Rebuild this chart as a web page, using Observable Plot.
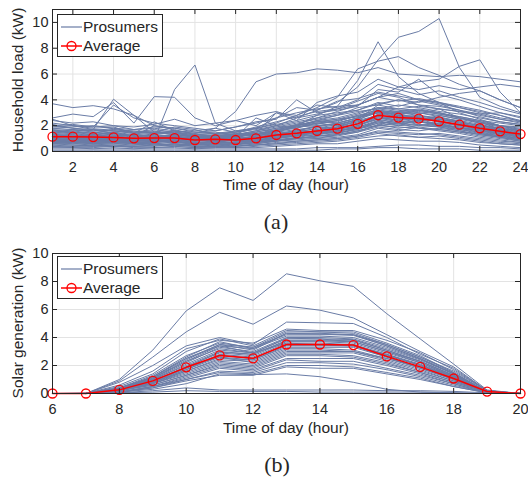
<!DOCTYPE html>
<html>
<head>
<meta charset="utf-8">
<script src="https://cdn.jsdelivr.net/npm/d3@7"></script>
<script src="https://cdn.jsdelivr.net/npm/@observablehq/plot@0.6"></script>
<style>
  body { margin: 0; background: #fff; }
  #wrap { position: relative; width: 528px; height: 479px; font-family: "Liberation Sans", Arial, sans-serif; color: #262626; overflow: hidden; }
  .ylab { position: absolute; transform: translate(-50%, -50%) rotate(-90deg); white-space: nowrap; font-size: 15.5px; line-height: 1; }
  .xlab { position: absolute; transform: translate(-50%, -50%); white-space: nowrap; font-size: 15.5px; line-height: 1; }
  .cap { position: absolute; transform: translate(-50%, -50%); font-family: "Liberation Serif", "Times New Roman", serif; font-size: 22px; line-height: 1; }
  .legend { position: absolute; }
</style>
</head>
<body>
<div id="wrap"></div>
<script>
// ---------- Data: (a) household load ----------
const loadHours = [1,2,3,4,5,6,7,8,9,10,11,12,13,14,15,16,17,18,19,20,21,22,23,24];
const loadAverage = [1.15,1.15,1.12,1.09,1.02,1.04,1.04,0.89,0.94,0.89,1.02,1.28,1.41,1.59,1.77,2.14,2.81,2.63,2.55,2.34,2.08,1.80,1.56,1.35];
const loadProsumers = [
  [3.7,3.4,3.55,3.3,2.8,2.0,1.8,1.5,1.6,1.9,2.2,2.6,3.0,3.3,3.5,3.6,4.2,4.5,4.0,3.7,3.4,3.0,2.6,2.4],
  [1.3,1.2,1.1,1.4,1.2,0.9,4.8,6.7,2.2,1.6,1.8,1.5,2.0,2.4,2.2,2.6,3.2,3.0,2.8,2.5,2.2,1.8,1.5,1.3],
  [2.5,2.0,1.7,4.05,2.8,1.5,1.3,1.2,1.1,1.2,1.3,1.6,1.9,2.2,2.0,2.5,3.0,2.8,3.2,3.0,2.6,2.2,1.9,1.6],
  [2.6,2.9,2.7,3.8,2.2,4.25,4.2,2.6,2.0,2.4,2.8,3.1,2.6,2.9,3.3,3.9,4.5,4.2,3.6,3.3,3.1,2.9,3.0,2.7],
  [1.6,1.5,1.4,1.7,1.5,1.4,1.6,1.4,1.8,3.1,5.4,6.0,6.1,6.4,6.3,6.1,6.5,6.0,5.9,5.8,5.9,5.8,5.6,5.4],
  [1.0,0.9,0.8,0.9,0.8,0.9,1.2,1.0,1.1,1.3,1.6,2.0,2.6,3.2,3.8,5.0,7.1,8.85,9.3,10.3,6.5,4.2,3.5,3.0],
  [0.8,0.7,0.7,0.8,0.7,0.8,0.9,0.8,0.9,1.0,1.2,1.5,2.0,2.8,3.5,5.5,8.5,5.8,4.5,3.8,3.0,2.5,2.0,1.6],
  [1.2,1.1,1.0,1.1,1.0,1.1,1.0,0.9,1.0,1.1,1.3,1.6,2.1,2.6,3.1,3.6,4.2,5.0,5.4,5.6,6.6,7.1,4.6,3.0],
  [1.5,1.4,1.3,1.4,1.2,1.3,1.5,1.3,1.4,1.5,1.8,2.2,2.8,3.4,4.2,6.4,7.0,7.35,6.5,5.9,5.2,4.7,4.0,3.4],
  [0.9,0.8,0.8,0.9,0.8,0.9,1.0,0.9,1.0,1.2,1.4,3.0,2.4,3.8,4.3,4.6,5.6,5.0,4.8,5.1,4.8,5.0,5.2,5.0],
  [2.0,2.1,1.9,3.6,2.6,2.2,2.0,1.8,1.6,1.9,2.3,2.5,4.0,3.0,3.2,3.5,4.8,4.6,5.6,4.4,4.0,3.5,3.0,2.6],
  [1.1,1.0,0.9,1.0,0.9,1.0,1.1,0.8,0.9,0.8,1.0,1.2,1.4,1.6,1.8,2.2,2.9,2.7,2.6,2.4,2.1,1.8,1.5,1.3],
  [0.5,0.4,0.4,0.5,0.4,0.5,0.6,0.5,0.5,0.6,0.7,0.9,1.0,1.2,1.3,1.6,2.0,1.9,1.8,1.6,1.4,1.1,0.9,0.7],
  [1.8,1.7,1.6,1.8,1.5,1.6,1.4,1.2,1.3,1.2,1.5,1.8,2.1,2.3,2.5,2.9,3.4,3.2,3.0,2.8,2.5,2.2,2.0,1.9],
  [0.2,0.2,0.2,0.2,0.2,0.2,0.2,0.2,0.2,0.2,0.2,0.2,0.2,0.3,0.3,0.3,0.4,0.5,0.5,0.4,0.4,0.3,0.3,0.2],
  [0.8,0.7,0.9,0.8,0.6,0.7,0.8,0.6,0.7,0.9,0.8,1.1,1.5,1.3,1.9,2.4,2.8,3.1,2.9,3.3,2.6,2.3,1.7,1.2],
  [1.4,1.3,1.2,1.2,1.1,1.3,1.2,1.0,1.1,1.0,1.2,1.4,1.6,2.0,2.1,2.5,3.6,3.3,3.2,3.0,2.7,2.4,2.0,1.7],
  [0.6,0.6,0.5,0.6,0.7,0.5,0.6,0.4,0.5,0.4,0.6,0.8,0.9,1.0,1.1,1.3,1.8,1.6,1.9,1.7,1.5,1.2,1.0,0.8],
  [1.9,2.0,1.8,1.9,1.4,2.3,1.6,1.5,1.4,1.6,1.8,2.1,2.4,2.8,3.0,3.2,3.8,3.5,3.9,3.6,3.2,2.7,2.3,2.1],
  [0.9,1.0,1.2,1.0,0.8,0.9,0.7,0.6,0.8,0.7,0.9,1.0,1.2,1.5,1.4,1.8,2.2,2.4,2.1,2.0,1.9,1.6,1.3,1.0],
  [1.2,1.1,1.3,1.5,1.2,1.0,1.3,1.1,0.9,1.1,1.0,1.3,1.2,1.7,2.0,2.3,2.6,2.5,2.7,2.3,2.0,1.9,1.7,1.5],
  [0.4,0.3,0.3,0.4,0.3,0.3,0.4,0.3,0.3,0.4,0.5,0.6,0.7,0.8,0.9,1.1,1.4,1.2,1.1,1.0,0.9,0.7,0.6,0.5],
  [1.6,1.5,1.5,1.3,1.2,2.0,1.7,1.3,1.2,1.4,1.3,1.6,1.9,2.1,2.4,2.7,3.0,2.9,2.6,2.5,2.3,2.0,1.8,1.6],
  [0.7,0.8,0.6,0.7,0.8,0.9,0.6,0.5,0.6,0.5,0.7,0.9,1.1,1.3,1.6,1.9,2.3,2.1,2.3,2.0,1.7,1.5,1.2,1.0],
  [1.0,0.9,0.8,0.8,0.7,0.8,0.9,0.7,0.8,0.6,0.8,1.0,1.3,1.4,1.5,2.0,2.5,2.2,2.0,2.2,1.8,1.6,1.4,1.1],
  [2.2,2.0,1.9,2.0,1.7,1.8,1.6,1.4,1.5,1.3,1.6,1.9,2.2,2.5,2.8,3.1,3.3,3.6,3.4,3.1,2.9,2.6,2.3,2.1],
  [0.3,0.3,0.2,0.3,0.2,0.3,0.3,0.2,0.3,0.3,0.3,0.4,0.5,0.6,0.6,0.8,1.0,0.9,0.8,0.8,0.7,0.5,0.4,0.3],
  [1.3,1.4,1.2,1.3,1.1,1.2,1.0,0.9,1.0,0.9,1.1,1.3,1.5,1.8,2.1,2.4,3.2,2.8,2.6,2.5,2.2,1.9,1.6,1.4],
  [0.9,0.8,0.8,0.8,0.9,0.8,0.7,0.7,0.7,0.7,0.8,1.2,1.7,1.4,1.6,1.8,2.0,2.6,2.4,2.8,2.5,1.4,1.1,0.9],
  [1.5,1.6,1.4,1.5,1.3,1.4,1.6,1.1,1.2,1.1,1.4,1.6,1.8,2.2,2.3,2.8,3.0,3.1,3.3,3.0,2.6,2.3,2.0,1.7],
  [0.6,0.5,0.5,0.5,0.5,0.6,0.5,0.4,0.4,0.5,0.5,0.7,0.8,0.9,1.0,1.2,1.5,1.4,1.3,1.4,1.2,1.0,0.8,0.7],
  [1.1,1.2,1.1,1.2,1.0,1.1,1.2,0.9,0.8,0.9,1.2,1.5,1.9,2.0,2.2,2.6,3.0,2.7,2.8,2.6,2.4,2.1,1.8,1.5],
  [0.8,0.9,1.0,0.9,0.7,0.7,0.9,0.7,0.6,0.7,0.8,0.9,1.0,1.2,1.4,1.7,2.4,2.0,2.5,2.1,1.8,1.7,1.4,1.2],
  [1.7,1.6,1.7,1.6,1.4,1.5,1.3,1.1,1.0,1.2,1.3,1.7,2.0,2.4,2.6,3.0,3.4,3.3,3.5,3.3,3.1,2.8,2.5,2.2],
  [0.1,0.1,0.1,0.1,0.1,0.1,0.1,0.1,0.1,0.1,0.1,0.1,0.1,0.1,0.2,0.2,0.3,0.3,0.2,0.2,0.2,0.1,0.1,0.1],
  [1.0,1.1,0.9,1.1,0.8,1.0,0.9,0.8,1.0,0.8,1.1,1.1,1.3,1.5,1.7,2.0,2.6,2.3,2.3,2.2,2.0,1.7,1.5,1.2],
  [0.5,0.5,0.4,0.4,0.4,0.4,0.5,0.4,0.4,0.3,0.4,0.5,0.6,0.7,0.8,1.0,1.2,1.3,1.1,1.2,1.0,0.8,0.6,0.5],
  [2.1,1.8,1.6,1.7,1.6,1.5,1.9,1.7,1.3,1.5,1.7,2.0,2.3,2.6,2.9,3.2,3.7,4.0,3.6,3.5,3.2,2.9,2.5,2.3],
  [1.3,1.2,1.3,1.1,1.0,1.1,1.1,1.0,0.9,1.0,1.0,1.3,1.6,1.9,1.8,2.2,2.7,2.6,2.5,2.3,2.1,1.8,1.5,1.3],
  [0.7,0.6,0.7,0.7,0.6,0.6,0.7,0.6,0.7,0.6,0.6,0.8,1.0,1.1,1.2,1.5,1.9,1.7,1.6,1.8,1.6,1.3,1.1,0.9],
  [1.8,1.9,2.0,1.8,1.7,1.9,1.8,1.6,1.8,1.5,1.9,2.3,2.7,3.1,3.3,3.6,4.2,3.9,4.1,3.8,3.4,3.1,2.8,2.4],
  [1.2,1.1,1.0,1.2,1.0,1.1,1.3,1.1,1.2,1.4,1.8,2.6,3.4,3.2,3.9,4.1,4.6,4.3,4.0,3.8,3.5,3.2,2.8,2.3],
  [2.4,2.2,2.3,2.0,1.9,2.1,2.5,2.0,2.2,2.4,2.0,3.0,2.8,3.6,3.4,4.0,5.2,4.8,4.4,4.7,4.2,3.8,3.3,2.9],
  [0.9,0.9,0.8,1.0,0.9,1.0,1.1,0.9,1.0,1.1,2.6,2.0,1.8,2.4,2.8,3.4,3.6,4.0,3.8,4.2,4.5,4.7,4.0,3.4],
  [1.0,0.9,1.0,0.9,0.8,0.9,0.8,0.7,0.8,0.9,1.0,1.1,1.3,1.4,1.6,1.9,2.4,2.5,2.3,2.1,1.9,1.6,1.4,1.2],
  [1.4,1.5,1.3,1.4,1.2,1.2,1.3,1.2,1.0,1.2,1.3,1.5,1.7,1.9,2.2,2.6,3.1,2.9,3.0,2.7,2.3,2.0,1.8,1.6],
  [0.6,0.7,0.6,0.6,0.5,0.7,0.8,0.5,0.6,0.6,0.7,0.9,1.0,1.2,1.3,1.5,2.1,1.8,2.0,1.9,1.6,1.3,1.1,0.8],
  [1.2,1.3,1.1,1.0,1.1,1.4,1.5,1.1,0.9,1.0,1.1,1.4,1.6,1.7,1.9,2.3,2.8,2.6,2.4,2.5,2.2,1.9,1.6,1.4],
  [0.8,0.7,0.6,0.7,0.6,0.6,0.5,0.6,0.5,0.6,0.7,0.8,1.1,1.0,1.3,1.6,2.0,2.2,1.8,1.7,1.5,1.4,1.2,1.0],
  [2.0,1.8,1.7,1.6,1.5,1.7,1.5,1.3,1.4,1.3,1.4,1.7,2.0,2.2,2.4,2.8,3.2,3.0,3.1,2.9,2.7,2.4,2.2,2.0],
  [0.9,1.0,0.9,1.1,1.0,1.1,1.2,1.0,1.1,0.9,1.1,1.3,1.5,1.6,1.7,2.0,2.7,2.4,2.6,2.3,2.0,1.7,1.4,1.1],
  [1.3,1.1,1.2,1.2,1.3,1.2,1.1,0.9,0.8,0.9,1.0,1.2,1.4,1.6,1.9,2.1,2.5,2.8,2.7,2.6,2.3,2.0,1.7,1.4],
  [0.4,0.4,0.5,0.4,0.4,0.5,0.4,0.3,0.4,0.4,0.5,0.6,0.8,0.9,1.0,1.2,1.6,1.5,1.4,1.3,1.1,0.9,0.7,0.6],
  [1.6,1.7,1.5,1.6,1.4,1.5,1.4,1.3,1.2,1.3,1.5,1.8,2.0,2.3,2.5,2.7,3.3,3.1,3.2,2.9,2.6,2.3,2.0,1.8],
  [1.1,1.0,1.1,1.0,0.9,1.0,1.0,0.9,0.9,0.8,0.9,1.1,1.2,1.5,1.6,1.8,2.3,2.2,2.4,2.0,1.8,1.5,1.3,1.1],
  [0.7,0.7,0.8,0.8,0.7,0.8,0.8,0.6,0.7,0.7,0.9,1.0,1.2,1.3,1.5,1.7,2.2,2.0,2.1,1.9,1.7,1.4,1.2,0.9]
];
const loadXTicks = [2,4,6,8,10,12,14,16,18,20,22,24];
const loadYTicks = [0,2,4,6,8,10];

// ---------- Data: (b) solar generation ----------
const solarHours = [6,7,8,9,10,11,12,13,14,15,16,17,18,19,20];
const solarAverage = [0,0,0.26,0.9,1.87,2.72,2.51,3.5,3.5,3.46,2.65,1.9,1.07,0.14,0];
const solarProsumers = [
  [0,0,1.0,3.1,5.9,7.55,6.65,8.55,8.05,7.65,5.7,3.9,2.1,0.25,0],
  [0,0,0.9,2.6,4.4,5.8,4.95,6.25,5.95,5.4,4.2,3.0,1.9,0.2,0],
  [0,0,0.8,2.0,3.4,4.0,3.5,5.1,5.05,5.0,4.0,2.8,1.8,0.2,0],
  [0,0,0.5,1.4,3.0,3.9,3.4,4.5,4.4,4.4,3.6,2.7,1.5,0.1,0],
  [0,0,0.4,1.2,2.6,3.7,3.2,4.3,4.3,4.2,3.4,2.5,1.4,0.1,0],
  [0,0,0.4,1.1,2.4,3.5,3.3,4.2,4.2,4.2,3.5,2.6,1.6,0.2,0],
  [0,0,0.3,1.0,2.2,3.3,3.0,4.0,4.0,3.9,3.2,2.4,1.4,0.1,0],
  [0,0,0.3,1.0,2.0,3.0,2.8,3.8,3.8,3.8,3.1,2.3,1.3,0.1,0],
  [0,0,0.3,0.9,1.9,2.9,2.7,3.7,3.7,3.6,2.9,2.2,1.2,0.1,0],
  [0,0,0.3,0.9,1.8,2.8,2.6,3.6,3.6,3.5,2.8,2.0,1.2,0.1,0],
  [0,0,0.2,0.8,1.8,2.7,2.5,3.5,3.5,3.5,2.7,2.0,1.1,0.1,0],
  [0,0,0.2,0.8,1.7,2.6,2.4,3.4,3.4,3.4,2.6,1.9,1.1,0.1,0],
  [0,0,0.2,0.8,1.6,2.5,2.4,3.3,3.3,3.3,2.6,1.8,1.0,0.1,0],
  [0,0,0.2,0.7,1.6,2.4,2.3,3.2,3.2,3.1,2.5,1.8,1.0,0.1,0],
  [0,0,0.2,0.7,1.5,2.3,2.1,3.0,3.0,3.0,2.4,1.7,0.9,0.1,0],
  [0,0,0.2,0.7,1.4,2.2,2.0,2.9,2.9,2.9,2.3,1.6,0.9,0.1,0],
  [0,0,0.2,0.6,1.3,2.1,1.9,2.8,2.8,2.7,2.2,1.5,0.8,0.1,0],
  [0,0,0.2,0.6,1.3,2.0,1.8,2.7,2.7,2.6,2.1,1.5,0.8,0.1,0],
  [0,0,0.1,0.5,1.2,1.9,1.7,2.5,2.5,2.5,2.0,1.4,0.7,0.05,0],
  [0,0,0.1,0.5,1.1,1.8,1.6,2.4,2.3,2.3,1.8,1.3,0.7,0.05,0],
  [0,0,0.1,0.5,1.0,1.6,1.5,2.2,2.2,2.1,1.7,1.2,0.6,0.05,0],
  [0,0,0.1,0.4,1.0,1.5,1.4,2.0,2.0,1.9,1.5,1.1,0.5,0.05,0],
  [0,0,0.1,0.4,0.9,1.3,1.3,1.9,1.8,1.8,1.4,1.0,0.5,0.05,0],
  [0,0.05,0.1,0.3,0.7,1.4,1.35,1.4,1.2,0.8,0.3,0.1,0.05,0,0],
  [0,0,0.05,0.2,0.4,0.25,0.25,0.25,0.25,0.25,0.2,0.2,0.15,0.05,0],
  [0,0,0.05,0.1,0.2,0.15,0.15,0.15,0.1,0.1,0.1,0.1,0.05,0,0],
  [0,0,0.6,1.6,3.2,3.8,3.6,4.6,4.5,4.5,3.8,2.9,1.7,0.2,0],
  [0,0,0.3,1.1,2.3,3.2,2.9,3.9,3.9,3.7,3.0,2.3,1.3,0.1,0],
  [0,0,0.3,1.2,2.5,3.4,2.9,3.6,3.5,3.4,2.8,2.1,1.2,0.1,0],
  [0,0,0.2,0.9,1.9,2.6,2.2,3.1,3.1,3.0,2.5,1.9,1.0,0.1,0],
  [0,0,0.4,1.3,2.7,3.6,3.3,4.4,4.4,4.3,3.5,2.6,1.5,0.15,0],
  [0,0,0.35,1.15,2.5,3.5,3.1,4.3,4.25,4.15,3.4,2.5,1.45,0.1,0],
  [0,0,0.3,1.05,2.3,3.4,3.2,4.1,4.1,4.0,3.3,2.45,1.4,0.1,0],
  [0,0,0.25,0.95,2.1,3.1,2.9,3.95,3.9,3.85,3.1,2.3,1.3,0.1,0],
  [0,0,0.25,0.85,1.9,2.95,2.8,3.75,3.75,3.7,3.0,2.2,1.25,0.1,0],
  [0,0,0.2,0.75,1.7,2.75,2.5,3.45,3.45,3.4,2.75,2.05,1.15,0.1,0]
];
const solarXTicks = [6,8,10,12,14,16,18,20];
const solarYTicks = [0,2,4,6,8,10];

const prosumerColor = "#6a7ca6";
const avgColor = "#ff0000";
const ink = "#262626";
const gridColor = "#e3e3e3";

function panel({hours, series, avg, xDomain, yDomain, xTicks, yTicks, top, height, mt, mb}) {
  const W = 528, ml = 52, mr = 8;
  const fw = W - ml - mr, fh = height - mt - mb;
  const rows = series.flatMap((vals, i) => vals.map((v, j) => ({id: i, x: hours[j], y: v})));
  const avgRows = avg.map((v, j) => ({x: hours[j], y: v}));
  const chart = Plot.plot({
    width: W, height,
    marginLeft: ml, marginRight: mr, marginTop: mt, marginBottom: mb,
    style: {fontFamily: "'Liberation Sans', Arial, sans-serif", fontSize: "14.5px", color: ink, background: "transparent", overflow: "visible"},
    x: {domain: xDomain},
    y: {domain: yDomain},
    marks: [
      Plot.gridX(xTicks, {stroke: gridColor, strokeOpacity: 1}),
      Plot.gridY(yTicks, {stroke: gridColor, strokeOpacity: 1}),
      Plot.line(rows, {x: "x", y: "y", z: "id", stroke: prosumerColor, strokeWidth: 1}),
      Plot.line(avgRows, {x: "x", y: "y", stroke: avgColor, strokeWidth: 1.5}),
      Plot.dot(avgRows, {x: "x", y: "y", r: 4.5, stroke: avgColor, strokeWidth: 1.3, fill: "none"}),
      Plot.tickX(xTicks, {x: d => d, stroke: ink, insetTop: fh - 5}),
      Plot.tickX(xTicks, {x: d => d, stroke: ink, insetBottom: fh - 5}),
      Plot.tickY(yTicks, {y: d => d, stroke: ink, insetRight: fw - 5}),
      Plot.tickY(yTicks, {y: d => d, stroke: ink, insetLeft: fw - 5}),
      Plot.frame({stroke: ink}),
      Plot.axisX(xTicks, {tickSize: 0, tickPadding: 10, label: null, fill: ink}),
      Plot.axisY(yTicks, {tickSize: 0, tickPadding: 4, label: null, fill: ink})
    ]
  });
  chart.style.position = "absolute";
  chart.style.left = "0px";
  chart.style.top = top + "px";
  return chart;
}

function legend(left, top) {
  const ns = "http://www.w3.org/2000/svg";
  const svg = document.createElementNS(ns, "svg");
  svg.setAttribute("width", 106); svg.setAttribute("height", 43);
  svg.setAttribute("class", "legend");
  svg.style.left = left + "px"; svg.style.top = top + "px";
  svg.innerHTML = `
    <rect x="0.5" y="0.5" width="105" height="42" fill="white" stroke="${ink}" stroke-width="1"/>
    <line x1="4" x2="25" y1="13" y2="13" stroke="${prosumerColor}" stroke-width="1.2"/>
    <text x="26" y="13" dy="0.35em" font-family="'Liberation Sans', Arial, sans-serif" font-size="15.5" fill="${ink}">Prosumers</text>
    <line x1="4" x2="25" y1="32" y2="32" stroke="${avgColor}" stroke-width="1.5"/>
    <circle cx="14.5" cy="32" r="4.5" fill="none" stroke="${avgColor}" stroke-width="1.3"/>
    <text x="26" y="32" dy="0.35em" font-family="'Liberation Sans', Arial, sans-serif" font-size="15.5" fill="${ink}">Average</text>`;
  return svg;
}

const wrap = document.getElementById("wrap");
function addText(cls, text, x, y) {
  const d = document.createElement("div");
  d.className = cls; d.textContent = text;
  d.style.left = x + "px"; d.style.top = y + "px";
  wrap.appendChild(d);
}

wrap.appendChild(panel({hours: loadHours, series: loadProsumers, avg: loadAverage, xDomain: [1, 24], yDomain: [0, 11], xTicks: loadXTicks, yTicks: loadYTicks, top: 0, height: 200, mt: 9, mb: 49}));
wrap.appendChild(panel({hours: solarHours, series: solarProsumers, avg: solarAverage, xDomain: [6, 20], yDomain: [0, 10], xTicks: solarXTicks, yTicks: solarYTicks, top: 240, height: 200, mt: 13, mb: 47}));
wrap.appendChild(legend(57, 14));
wrap.appendChild(legend(57, 256));
addText("ylab", "Household load (kW)", 18, 80);
addText("xlab", "Time of day (hour)", 286, 185);
addText("cap", "(a)", 276, 222);
addText("ylab", "Solar generation (kW)", 18, 323);
addText("xlab", "Time of day (hour)", 286, 428);
addText("cap", "(b)", 277, 465);
</script>
</body>
</html>
